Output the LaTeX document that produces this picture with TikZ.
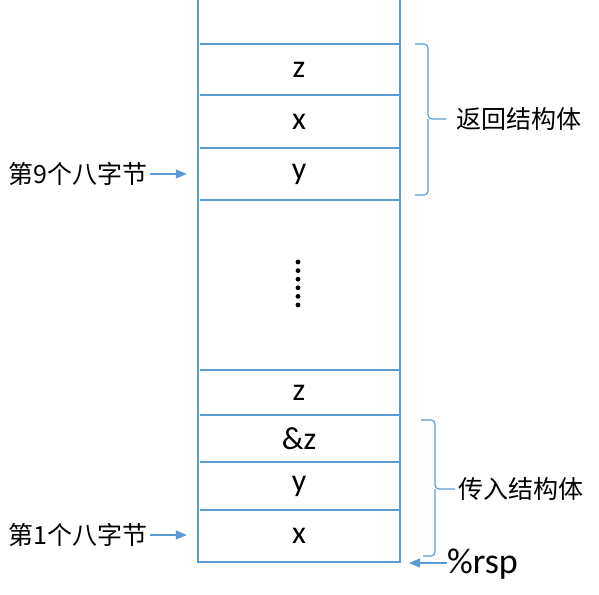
\documentclass[tikz,border=0pt]{standalone}
\usepackage{fontspec}
\setmainfont{Carlito}
\newfontfamily\cjk{Noto Sans CJK SC}
\usetikzlibrary{arrows.meta}
\definecolor{lblue}{RGB}{91,155,213}
\begin{document}
\begin{tikzpicture}[x=1pt,y=-1pt,
  line/.style={draw=lblue,line width=1.2pt},
  cell/.style={minimum width=202pt,inner sep=0pt,font=\fontsize{32}{38}\selectfont},
  cjklabel/.style={font=\cjk\fontsize{25}{30}\selectfont,inner sep=0pt},
  arr/.style={draw=lblue,line width=1.2pt,-{Triangle[length=11pt,width=9pt]},color=lblue},
  dotm/.style={fill=black,draw=none,circle,inner sep=0pt,minimum size=4.8pt}
]
\useasboundingbox (0,0) rectangle (599,594);
% column frame
\draw[line] (198,0) -- (198,562) -- (400,562) -- (400,0);
\foreach \yy in {44,95,148,200,370,415,462,510}
  \draw[line] (200,\yy) -- (400,\yy);
% cells
\node[cell,minimum height=51pt] (c1) at (299,69.5) {z};
\node[cell,minimum height=53pt] (c2) at (299,121.5) {x};
\node[cell,minimum height=52pt] (c3) at (299,174) {y};
\node[cell,minimum height=45pt] (c4) at (299,392.5) {z};
\node[cell,minimum height=47pt] (c5) at (299,438.5) {\&z};
\node[cell,minimum height=48pt] (c6) at (299,486) {y};
\node[cell,minimum height=52pt] (c7) at (299,536) {x};
% dots
\foreach \i in {0,...,5}
  \node[dotm] (d\i) at (298,262+8.6*\i) {};
% braces
\draw[line,rounded corners=4pt] (415,44) -- (428,44) -- (428,119) -- (446,119);
\draw[line,rounded corners=4pt] (428,119) -- (428,195) -- (415,195);
\draw[line,rounded corners=4pt] (421,420) -- (435,420) -- (435,489) -- (455,489);
\draw[line,rounded corners=4pt] (435,489) -- (435,556) -- (423,556);
\node[cjklabel,anchor=west] (ret) at (456,119) {返回结构体};
\node[cjklabel,anchor=west] (arg) at (458,489) {传入结构体};
% left labels
\node[cjklabel,anchor=east] (l9) at (148,174) {第9个八字节};
\node[cjklabel,anchor=east] (l1) at (148,535) {第1个八字节};
\draw[arr,shorten <=2pt,shorten >=11pt] (l9.east) -- (c3.west);
\draw[arr,shorten <=2pt,shorten >=11pt] (l1.east) -- (c7.west |- l1.east);
% rsp
\node[anchor=west,inner sep=0pt,font=\fontsize{36}{40}\selectfont] (rsp) at (447,564) {\%rsp};
\coordinate (rspt) at (409,563);
\draw[arr] (rsp.west |- rspt) -- (rspt);
\end{tikzpicture}
\end{document}
